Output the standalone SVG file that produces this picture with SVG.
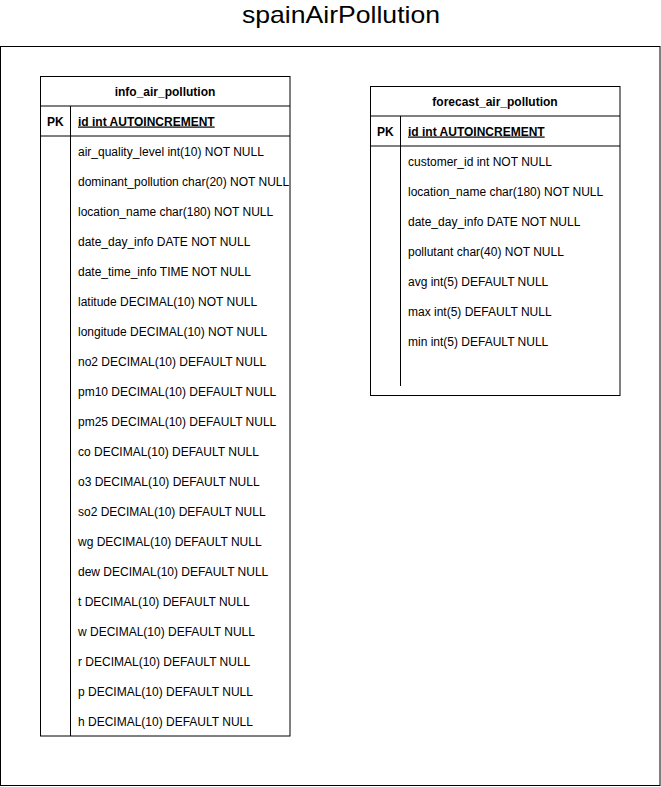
<svg xmlns="http://www.w3.org/2000/svg" width="661" height="787" viewBox="0 0 661 787">
<style>
text{font-family:"Liberation Sans",Arial,Helvetica,sans-serif;font-size:12px;fill:#000}
.b{font-weight:bold}
.h{text-anchor:middle;font-weight:bold}
.u{font-weight:bold;text-decoration:underline}
.box{fill:#fff;stroke:#000;stroke-width:1}
.ln{stroke:#000;stroke-width:1;fill:none}
</style>
<rect width="661" height="787" fill="#fff"/>
<text x="341" y="23" style="font-size:24px;text-anchor:middle" textLength="198" lengthAdjust="spacingAndGlyphs">spainAirPollution</text>
<g id="container"><rect x="0.5" y="46.5" width="659.5" height="739" class="box"/></g>
<g id="info_air_pollution">
<rect x="40.5" y="76.5" width="249.5" height="659.5" class="box"/>
<line x1="40.5" y1="106" x2="290" y2="106" class="ln"/>
<line x1="40.5" y1="136" x2="290" y2="136" class="ln"/>
<line x1="70.5" y1="106" x2="70.5" y2="736" class="ln"/>
<text x="165" y="95.5" class="h">info_air_pollution</text>
<text x="47" y="125.5" class="b">PK</text>
<text x="78" y="125.5" class="u">id int AUTOINCREMENT</text>
<text x="78" y="155.5">air_quality_level int(10) NOT NULL</text>
<text x="78" y="185.5">dominant_pollution char(20) NOT NULL</text>
<text x="78" y="215.5">location_name char(180) NOT NULL</text>
<text x="78" y="245.5">date_day_info DATE NOT NULL</text>
<text x="78" y="275.5">date_time_info TIME NOT NULL</text>
<text x="78" y="305.5">latitude DECIMAL(10) NOT NULL</text>
<text x="78" y="335.5">longitude DECIMAL(10) NOT NULL</text>
<text x="78" y="365.5">no2 DECIMAL(10) DEFAULT NULL</text>
<text x="78" y="395.5">pm10 DECIMAL(10) DEFAULT NULL</text>
<text x="78" y="425.5">pm25 DECIMAL(10) DEFAULT NULL</text>
<text x="78" y="455.5">co DECIMAL(10) DEFAULT NULL</text>
<text x="78" y="485.5">o3 DECIMAL(10) DEFAULT NULL</text>
<text x="78" y="515.5">so2 DECIMAL(10) DEFAULT NULL</text>
<text x="78" y="545.5">wg DECIMAL(10) DEFAULT NULL</text>
<text x="78" y="575.5">dew DECIMAL(10) DEFAULT NULL</text>
<text x="78" y="605.5">t DECIMAL(10) DEFAULT NULL</text>
<text x="78" y="635.5">w DECIMAL(10) DEFAULT NULL</text>
<text x="78" y="665.5">r DECIMAL(10) DEFAULT NULL</text>
<text x="78" y="695.5">p DECIMAL(10) DEFAULT NULL</text>
<text x="78" y="725.5">h DECIMAL(10) DEFAULT NULL</text>
</g>
<g id="forecast_air_pollution">
<rect x="370.5" y="86.5" width="249.5" height="309" class="box"/>
<line x1="370.5" y1="116" x2="620" y2="116" class="ln"/>
<line x1="370.5" y1="146" x2="620" y2="146" class="ln"/>
<line x1="400.5" y1="116" x2="400.5" y2="386" class="ln"/>
<text x="495" y="105.5" class="h">forecast_air_pollution</text>
<text x="377" y="135.5" class="b">PK</text>
<text x="408" y="135.5" class="u">id int AUTOINCREMENT</text>
<text x="408" y="165.5">customer_id int NOT NULL</text>
<text x="408" y="195.5">location_name char(180) NOT NULL</text>
<text x="408" y="225.5">date_day_info DATE NOT NULL</text>
<text x="408" y="255.5">pollutant char(40) NOT NULL</text>
<text x="408" y="285.5">avg int(5) DEFAULT NULL</text>
<text x="408" y="315.5">max int(5) DEFAULT NULL</text>
<text x="408" y="345.5">min int(5) DEFAULT NULL</text>
</g>
<g id="connectors"></g>
</svg>
